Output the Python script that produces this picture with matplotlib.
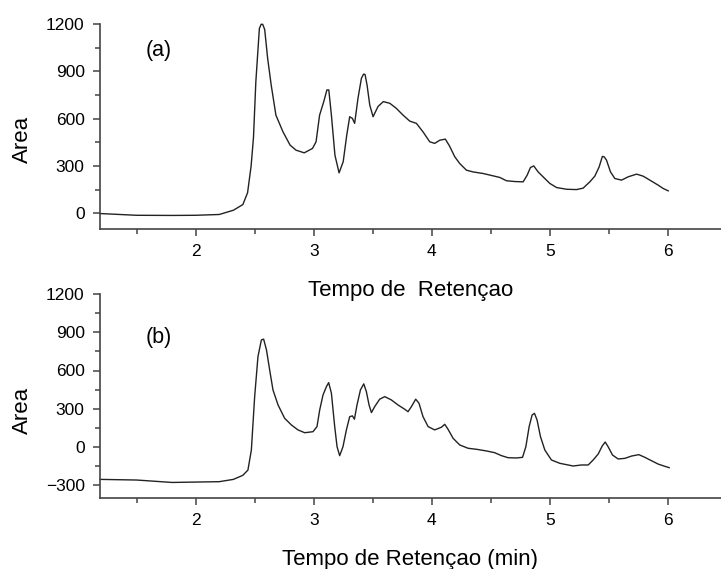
import matplotlib
matplotlib.use("Agg")
import matplotlib.pyplot as plt
from matplotlib.ticker import MultipleLocator

plt.rcParams['font.family'] = ['Liberation Sans', 'DejaVu Sans']

# cromatograma (a)
top_t = [1.19, 1.5, 1.8, 2.0, 2.2, 2.32, 2.40, 2.44, 2.47, 2.49, 2.51, 2.54, 2.555, 2.568, 2.585,
         2.61, 2.64, 2.68, 2.74, 2.80, 2.85, 2.92, 2.99, 3.02, 3.05, 3.085, 3.112, 3.128, 3.15,
         3.18, 3.215, 3.25, 3.28, 3.305, 3.328, 3.347, 3.375, 3.404, 3.422, 3.435, 3.452, 3.475,
         3.503, 3.545, 3.59, 3.645, 3.70, 3.757, 3.814, 3.87, 3.926, 3.983, 4.025, 4.068,
         4.115, 4.15, 4.195, 4.237, 4.294, 4.35, 4.435, 4.52, 4.576, 4.633, 4.703, 4.774,
         4.808, 4.836, 4.864, 4.901, 4.943, 5.0, 5.057, 5.142, 5.226, 5.282, 5.339, 5.381,
         5.418, 5.445, 5.46, 5.48, 5.514, 5.551, 5.608, 5.664, 5.735, 5.791, 5.847, 5.918, 5.96,
         6.003]
top_area = [-2, -13, -14, -13, -8, 19, 55, 130, 300, 480, 834, 1172, 1198, 1198, 1165,
            982, 813, 622, 516, 432, 400, 383, 411, 453, 622, 707, 782, 782, 622,
            368, 256, 327, 495, 612, 601, 570, 728, 855, 882, 880, 813, 686,
            612, 677, 708, 697, 665, 622, 584, 570, 516, 453, 443, 463,
            470, 427, 358, 315, 273, 262, 252, 237, 227, 206, 201, 199,
            241, 290, 300, 262, 231, 189, 163, 152, 150, 159, 199, 235,
            294, 360, 358, 337, 262, 220, 210, 231, 248, 235, 210, 178, 157,
            142]

# cromatograma (b)
bot_t = [1.19, 1.5, 1.8, 2.0, 2.2, 2.32, 2.40, 2.443, 2.472, 2.50, 2.528, 2.557, 2.576,
         2.60, 2.627, 2.655, 2.698, 2.754, 2.811, 2.867, 2.924, 2.994, 3.028, 3.051, 3.079,
         3.108, 3.127, 3.15, 3.178, 3.198, 3.22, 3.248, 3.277, 3.305, 3.328, 3.345, 3.367,
         3.396, 3.424, 3.446, 3.469, 3.489, 3.517, 3.559, 3.602, 3.658, 3.714, 3.771, 3.799,
         3.828, 3.864, 3.892, 3.926, 3.969, 4.025, 4.082, 4.11, 4.138, 4.181, 4.237, 4.308,
         4.379, 4.464, 4.534, 4.591, 4.647, 4.718, 4.769, 4.797, 4.825, 4.85, 4.87, 4.892,
         4.921, 4.958, 5.014, 5.085, 5.155, 5.198, 5.268, 5.325, 5.367, 5.41, 5.444, 5.469,
         5.494, 5.531, 5.579, 5.636, 5.692, 5.754, 5.805, 5.862, 5.918, 5.966, 6.011]
bot_area = [-254, -259, -278, -275, -272, -254, -222, -181, -24, 395, 709, 840, 846,
            762, 605, 448, 330, 225, 173, 134, 112, 120, 160, 291, 408,
            474, 505, 422, 160, 2, -68, 2, 134, 238, 244, 218, 330,
            448, 495, 435, 330, 270, 317, 375, 395, 369, 330, 296, 277,
            317, 375, 343, 238, 160, 134, 155, 178, 139, 68, 16, -10,
            -18, -31, -45, -68, -84, -86, -81, 2, 160, 251, 264, 212,
            81, -24, -102, -128, -141, -149, -141, -141, -102, -55, 8, 39,
            2, -63, -94, -89, -71, -60, -81, -108, -134, -149, -162]

x_ticks = [2, 3, 4, 5, 6]
top_yticks = [0, 300, 600, 900, 1200]
bot_yticks = [-300, 0, 300, 600, 900, 1200]

fig = plt.figure(figsize=(7.21, 5.69), dpi=100)
ax1 = fig.add_axes([100/721, 1-229/569, 621/721, 205/569])
ax2 = fig.add_axes([100/721, 1-498/569, 621/721, 204/569])

paineis = [
    (ax1, top_t, top_area, top_yticks, (-100, 1200), "(a)", 0.87, "Tempo de  Retençao", 0.435),
    (ax2, bot_t, bot_area, bot_yticks, (-400, 1200), "(b)", 0.785, "Tempo de Retençao (min)", 0.43),
]

for ax, t, a, yt, ylim, letra, letra_y, xlab, ylab_y in paineis:
    ax.patch.set_alpha(0)
    ax.plot(t, a, color='#222222', lw=1.0, clip_on=False)
    ax.set_xlim(1.19, 6.45)
    ax.set_ylim(*ylim)
    ax.set_xticks(x_ticks)
    ax.set_yticks(yt)
    ax.xaxis.set_minor_locator(MultipleLocator(0.5))
    ax.yaxis.set_minor_locator(MultipleLocator(150))
    for s in ['top', 'right']:
        ax.spines[s].set_visible(False)
    for s in ['left', 'bottom']:
        ax.spines[s].set_color('#444444')
        ax.spines[s].set_linewidth(1.2)
    ax.tick_params(which='major', direction='out', length=5, width=1.1, color='#444444',
                   labelsize=12.5, labelcolor='black', pad=6)
    ax.tick_params(which='minor', direction='out', length=3.5, width=1.1, color='#444444')
    ax.set_xlabel(xlab, fontsize=16)
    ax.xaxis.set_label_coords(0.5, -0.25)
    ax.set_ylabel("Area", fontsize=16)
    ax.yaxis.set_label_coords(-0.108, ylab_y)
    ax.text(0.095, letra_y, letra, transform=ax.transAxes,
            fontsize=15.5, ha='center', va='center')

fig.savefig("out.png", dpi=100)
